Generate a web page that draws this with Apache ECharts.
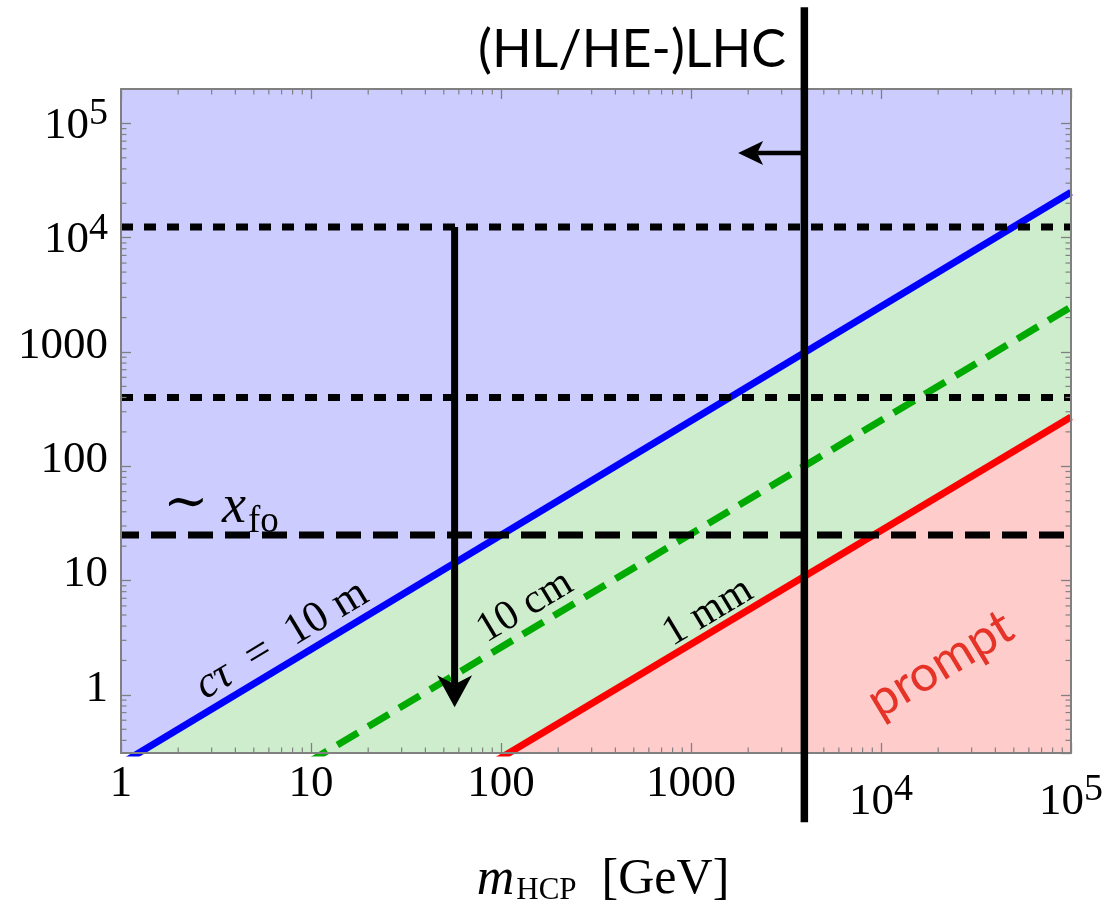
<!DOCTYPE html>
<html>
<head>
<meta charset="utf-8">
<script src="https://cdn.jsdelivr.net/npm/echarts@6/dist/echarts.min.js"></script>
<style>html,body{margin:0;padding:0;background:#fff}#c{width:1110px;height:905px}</style>
</head>
<body>
<div id="c"></div>
<script>
// ---------------- data ----------------
const massEnds = [1, 100000];              // GeV, x of line endpoints
const ct10m   = [0.25, 25000];             // c tau = 10 m  (blue)
const ct10cm  = [0.027, 2480];             // c tau = 10 cm (green dashed)
const ct1mm   = [0.0029, 270];             // c tau = 1 mm  (red)
const dottedLevels = [12400, 400];         // black dotted horizontals
const xfoLevel = 25;                       // ~ x_fo dashed horizontal
const lhcMass = 3950;                      // (HL/HE-)LHC reach
const lhcSpan = [0.077, 1.04e6];           // vertical extent of LHC bar
const lhcArrowY = 55000, lhcArrowTip = 1770;
const downArrowMass = 57, downArrowFrom = 12400, downArrowTo = 0.78;
const xRange = [1, 100000];
const yRange = [0.31, 200000];
const xTickValues = [1, 10, 100, 1000, 10000, 100000];
const xTickLabels = ['1', '10', '100', '1000', '10^4', '10^5'];
const yTickValues = [1, 10, 100, 1000, 10000, 100000];
const yTickLabels = ['1', '10', '100', '1000', '10^4', '10^5'];
const minorMultipliers = [2, 3, 4, 5, 6, 7, 8, 9];

// ---------------- styling ----------------
const serif = "'Liberation Serif','Times New Roman','DejaVu Serif',serif";
const sans = "Lato,'Open Sans',sans-serif";
const FRAME = '#808080';
const ANG = Math.atan2(664 / Math.log10(yRange[1] / yRange[0]), 950 / 5);

const minorX = [];
for (let e = 0; e < 5; e++) for (const k of minorMultipliers) minorX.push(k * Math.pow(10, e));
const minorY = [];
for (let e = -1; e <= 5; e++) for (const k of minorMultipliers) {
  const v = k * Math.pow(10, e);
  if (v > yRange[0] && v < yRange[1]) minorY.push(v);
}

function fmt(values, labels) {
  return function (v) {
    const i = values.findIndex(t => Math.abs(Math.log10(v) - Math.log10(t)) < 1e-6);
    if (i < 0) return '';
    const parts = labels[i].split('^');
    return parts.length === 2 ? '{b|' + parts[0] + '}{s|' + parts[1] + '}' : '{p|' + parts[0] + '}';
  };
}

const xRich = {
  p: {fontFamily: serif, fontSize: 45, lineHeight: 44, color: '#000'},
  b: {fontFamily: serif, fontSize: 45, lineHeight: 44, color: '#000', padding: [36, 0, 0, 0]},
  s: {fontFamily: serif, fontSize: 38, lineHeight: 44, color: '#000', padding: [12, 0, 0, 0]}
};
const yRich = {
  p: {fontFamily: serif, fontSize: 45, lineHeight: 44, color: '#000', padding: [0, 0, 12, 0]},
  b: {fontFamily: serif, fontSize: 45, lineHeight: 44, color: '#000', padding: [5, 0, 0, 0]},
  s: {fontFamily: serif, fontSize: 38, lineHeight: 44, color: '#000', padding: [0, 0, 18, 0]}
};

function frameAxis(extra) {
  return Object.assign({
    type: 'log', logBase: 10, z: 10,
    axisLine: {show: true, onZero: false, lineStyle: {color: FRAME, width: 2}},
    axisTick: {show: true, inside: true, length: 10, lineStyle: {color: FRAME, width: 1.3}},
    minorTick: {show: false},
    splitLine: {show: false},
    axisLabel: {show: false}
  }, extra);
}

function segLine(points, lineStyle, extra) {
  return Object.assign({
    type: 'line', data: points, symbol: 'none', silent: true, animation: false,
    lineStyle: Object.assign({cap: 'butt'}, lineStyle)
  }, extra || {});
}

// area under a line, with a hairline stroke so the clip rect hugs the frame
function fillUnder(points, color) {
  return segLine(points, {width: 0.01, opacity: 0},
                 {areaStyle: {color: color, opacity: 1, origin: 'start'}, z: 1});
}

function arrowSeries(from, to, shaftW, headL, headW, notch) {
  return {
    type: 'custom', coordinateSystem: 'cartesian2d', clip: false, silent: true, z: 15,
    data: [[from[0], from[1], to[0], to[1]]],
    encode: {x: [0, 2], y: [1, 3]},
    renderItem: function (params, api) {
      const p0 = api.coord([api.value(0), api.value(1)]);
      const p1 = api.coord([api.value(2), api.value(3)]);
      const dx = p1[0] - p0[0], dy = p1[1] - p0[1], len = Math.hypot(dx, dy);
      const ux = dx / len, uy = dy / len, nx = -uy, ny = ux;
      const back = [p1[0] - ux * headL, p1[1] - uy * headL];
      const nt = [p1[0] - ux * (headL - notch), p1[1] - uy * (headL - notch)];
      return {type: 'group', children: [
        {type: 'line', shape: {x1: p0[0], y1: p0[1], x2: nt[0], y2: nt[1]}, style: {stroke: '#000', lineWidth: shaftW}},
        {type: 'polygon', shape: {points: [p1, [back[0] + nx * headW / 2, back[1] + ny * headW / 2], nt, [back[0] - nx * headW / 2, back[1] - ny * headW / 2]]}, style: {fill: '#000'}}
      ]};
    }
  };
}

function textSeries(anchor, text, rich, rot, base) {
  return {
    type: 'custom', coordinateSystem: 'cartesian2d', clip: false, silent: true, z: 20,
    data: [anchor],
    renderItem: function (params, api) {
      const p = api.coord([api.value(0), api.value(1)]);
      return {
        type: 'text', x: p[0], y: p[1], rotation: rot,
        style: Object.assign({text: text, rich: rich, align: 'center', verticalAlign: 'middle',
          textAlign: 'center', textVerticalAlign: 'middle'}, base || {})
      };
    }
  };
}

const option = {
  animation: false,
  backgroundColor: '#ffffff',
  grid: {left: 121, top: 89, width: 950, height: 664, containLabel: false, outerBoundsMode: 'none',
         show: true, backgroundColor: '#CCCCFF', borderWidth: 0},
  xAxis: [
    frameAxis({
      position: 'bottom', min: xRange[0], max: xRange[1],
      axisLabel: {show: true, interval: 0, showMinLabel: true, showMaxLabel: true, margin: 9,
                  formatter: fmt(xTickValues, xTickLabels), rich: xRich, fontFamily: serif, fontSize: 45, color: '#000'},
      name: '{m|m}{s|HCP}{r|  [GeV]}', nameLocation: 'middle', nameGap: 97,
      nameTextStyle: {padding: [0, 0, 0, 14], rich: {
        m: {fontFamily: serif, fontStyle: 'italic', fontSize: 52, lineHeight: 60, color: '#000'},
        s: {fontFamily: serif, fontSize: 31, lineHeight: 60, color: '#000', padding: [22, 0, 0, 2]},
        r: {fontFamily: serif, fontSize: 50, lineHeight: 60, color: '#000'}
      }}
    }),
    frameAxis({position: 'top', min: xRange[0], max: xRange[1]})
  ],
  yAxis: [
    frameAxis({
      position: 'left', min: yRange[0], max: yRange[1],
      axisLabel: {show: true, interval: 0, showMinLabel: false, showMaxLabel: false, margin: 13,
                  formatter: fmt(yTickValues, yTickLabels), rich: yRich, fontFamily: serif, fontSize: 45, color: '#000'}
    }),
    frameAxis({position: 'right', min: yRange[0], max: yRange[1]})
  ],
  series: [
    // regions
    fillUnder(massEnds.map((m, i) => [m, ct10m[i]]), '#CDEDCD'),
    fillUnder(massEnds.map((m, i) => [m, ct1mm[i]]), '#FFCCCC'),
    // c tau lines
    segLine(massEnds.map((m, i) => [m, ct10m[i]]), {color: '#0000FF', width: 7}, {z: 3}),
    segLine(massEnds.map((m, i) => [m, ct1mm[i]]), {color: '#FF0000', width: 7}, {z: 3}),
    segLine(massEnds.map((m, i) => [m, ct10cm[i]]), {color: '#00AA00', width: 7, type: [24, 12]}, {z: 3}),
    // horizontal reference lines
    ...dottedLevels.map(L => segLine(xRange.map(x => [x, L]), {color: '#000', width: 7, type: [12, 11]}, {z: 4})),
    segLine(xRange.map(x => [x, xfoLevel]), {color: '#000', width: 7, type: [25, 12], dashOffset: 7}, {z: 4}),
    // LHC vertical bar
    segLine(lhcSpan.map(y => [lhcMass, y]), {color: '#000', width: 7.5}, {clip: false, z: 12}),
    arrowSeries([lhcMass, lhcArrowY], [lhcArrowTip, lhcArrowY], 4.5, 25, 24, 6),
    arrowSeries([downArrowMass, downArrowFrom], [downArrowMass, downArrowTo], 7, 32, 35, 9),
    // minor ticks on the frame
    {type: 'custom', coordinateSystem: 'cartesian2d', z: 10, silent: true, clip: false,
     data: minorX.map(v => [v, 1]),
     renderItem: function (params, api) {
       const cs = params.coordSys, x = api.coord([api.value(0), 1])[0], b = cs.y + cs.height, t = cs.y;
       return {type: 'group', children: [
         {type: 'line', shape: {x1: x, y1: b, x2: x, y2: b - 5.5}, style: {stroke: FRAME, lineWidth: 1.2}},
         {type: 'line', shape: {x1: x, y1: t, x2: x, y2: t + 5.5}, style: {stroke: FRAME, lineWidth: 1.2}}
       ]};
     }},
    {type: 'custom', coordinateSystem: 'cartesian2d', z: 10, silent: true, clip: false,
     data: minorY.map(v => [1, v]),
     renderItem: function (params, api) {
       const cs = params.coordSys, y = api.coord([1, api.value(1)])[1], l = cs.x, r = cs.x + cs.width;
       return {type: 'group', children: [
         {type: 'line', shape: {x1: l, y1: y, x2: l + 5.5, y2: y}, style: {stroke: FRAME, lineWidth: 1.2}},
         {type: 'line', shape: {x1: r, y1: y, x2: r - 5.5, y2: y}, style: {stroke: FRAME, lineWidth: 1.2}}
       ]};
     }},
    // annotations
    textSeries([489, 4.39e5], '(HL/HE-)LHC', null, 0, {fontFamily: sans, fontSize: 52, fill: '#000'}),
    textSeries([3.36, 43], '{t|∼}{x| x}{f|fo}', {
      t: {fontFamily: "'DejaVu Serif',serif", fontSize: 54, lineHeight: 60, fill: '#000', padding: [0, 0, 6, 0]},
      x: {fontFamily: serif, fontStyle: 'italic', fontSize: 54, lineHeight: 60, fill: '#000'},
      f: {fontFamily: serif, fontSize: 37, lineHeight: 60, fill: '#000', padding: [28, 0, 0, 2]}
    }, 0),
    textSeries([7.03, 3.02], '{i|cτ}{r|  =  10 m}', {
      i: {fontFamily: serif, fontStyle: 'italic', fontSize: 44, fill: '#000'},
      r: {fontFamily: serif, fontSize: 44, fill: '#000'}
    }, ANG),
    textSeries([134, 5.9], '{r|10 cm}', {r: {fontFamily: serif, fontSize: 42, fill: '#000'}}, ANG),
    textSeries([1230, 5.3], '{r|1 mm}', {r: {fontFamily: serif, fontSize: 42, fill: '#000'}}, ANG),
    textSeries([20500, 1.86], 'prompt', null, ANG, {fontFamily: sans, fontSize: 50, fill: '#E53328'})
  ]
};

const chart = echarts.init(document.getElementById('c'), null, {renderer: 'canvas'});
chart.setOption(option);
</script>
</body>
</html>
